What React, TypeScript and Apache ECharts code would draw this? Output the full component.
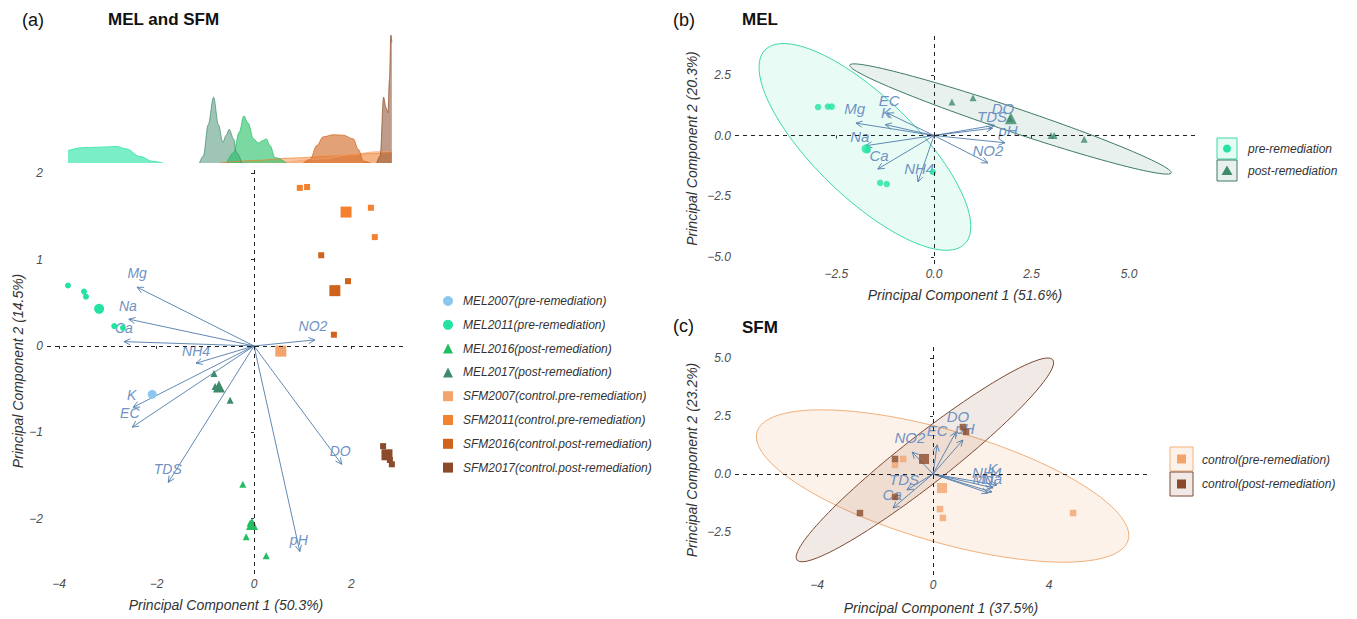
import React, { useEffect, useRef } from "react";
import * as echarts from "echarts";

const FONT = '"Liberation Sans", Arial, Helvetica, sans-serif';

// ---------- Panel (a): MEL and SFM ----------
const groupNames = [
  "MEL2007(pre-remediation)",
  "MEL2011(pre-remediation)",
  "MEL2016(post-remediation)",
  "MEL2017(post-remediation)",
  "SFM2007(control.pre-remediation)",
  "SFM2011(control.pre-remediation)",
  "SFM2016(control.post-remediation)",
  "SFM2017(control.post-remediation)",
];
const groupColors = ["#8CC8EE", "#22E3A0", "#22BE62", "#3E8B6C", "#F3A46C", "#F3812E", "#D0621C", "#8B4A2A"];
const groupSymbols = ["circle", "circle", "triangle", "triangle", "rect", "rect", "rect", "rect"];

const mel2007Pts: number[][] = [];
const mel2007Mean = [[-2.09, -0.56]];
const mel2011Pts = [[-3.82, 0.7], [-3.49, 0.63], [-3.45, 0.57], [-2.87, 0.23], [-2.69, 0.21]];
const mel2011Mean = [[-3.18, 0.43]];
const mel2016Pts = [[-0.23, -1.6], [-0.16, -2.21], [0.25, -2.43], [-0.08, -2.05]];
const mel2016Mean = [[-0.04, -2.06]];
const mel2017Pts = [[-0.82, -0.32], [-0.8, -0.47], [-0.49, -0.63]];
const mel2017Mean = [[-0.72, -0.47]];
const sfm2007Pts: number[][] = [];
const sfm2007Mean = [[0.55, -0.06]];
const sfm2011Pts = [[0.94, 1.83], [1.09, 1.84], [2.4, 1.6], [2.48, 1.26]];
const sfm2011Mean = [[1.89, 1.55]];
const sfm2016Pts = [[1.38, 1.05], [1.93, 0.75], [1.64, 0.13]];
const sfm2016Mean = [[1.66, 0.64]];
const sfm2017Pts = [[2.65, -1.16], [2.79, -1.32], [2.83, -1.37]];
const sfm2017Mean = [[2.73, -1.26]];

const groupPts = [mel2007Pts, mel2011Pts, mel2016Pts, mel2017Pts, sfm2007Pts, sfm2011Pts, sfm2016Pts, sfm2017Pts];
const groupMeans = [mel2007Mean, mel2011Mean, mel2016Mean, mel2017Mean, sfm2007Mean, sfm2011Mean, sfm2016Mean, sfm2017Mean];

const varsA = ["Mg", "Na", "Ca", "NH4", "NO2", "K", "EC", "TDS", "DO", "pH"];
const loadA = [[-2.4, 0.68], [-2.57, 0.31], [-2.67, 0.05], [-1.19, -0.2], [1.25, 0.07], [-2.48, -0.71], [-2.5, -0.94], [-1.76, -1.58], [1.8, -1.37], [0.94, -2.38]];
const labA = [[-2.4, 0.85], [-2.59, 0.46], [-2.67, 0.21], [-1.19, -0.06], [1.21, 0.23], [-2.51, -0.57], [-2.55, -0.78], [-1.77, -1.43], [1.77, -1.22], [0.92, -2.25]];

// densities along PC1 (top margin of panel a)
const densMel2011 = [[-3.82, 0.3], [-3.51, 0.37], [-3.2, 0.38], [-2.82, 0.4], [-2.62, 0.34], [-2.35, 0.16], [-2.08, 0.04], [-1.87, 0.0]];
const densMel2017 = [[-1.12, 0.0], [-1.04, 0.17], [-0.94, 0.92], [-0.83, 1.58], [-0.73, 0.92], [-0.64, 0.5], [-0.57, 0.67], [-0.51, 0.81], [-0.42, 0.58], [-0.36, 0.25], [-0.25, 0.0]];
const densMel2016 = [[-0.56, 0.0], [-0.42, 0.25], [-0.3, 0.75], [-0.21, 1.13], [-0.12, 0.96], [-0.01, 0.58], [0.09, 0.48], [0.18, 0.54], [0.25, 0.58], [0.33, 0.42], [0.43, 0.13], [0.67, 0.0]];
const densSfm2007 = [[0.6, 0.0], [1.4, 0.1], [2.0, 0.2], [2.5, 0.27], [2.83, 0.28]];
const densSfm2011 = [[-0.7, 0.0], [0.0, 0.06], [0.8, 0.12], [1.6, 0.17], [2.3, 0.22], [2.83, 0.25]];
const densSfm2016 = [[1.01, 0.0], [1.15, 0.08], [1.29, 0.42], [1.42, 0.63], [1.63, 0.68], [1.83, 0.67], [2.04, 0.58], [2.14, 0.33], [2.25, 0.04], [2.39, 0.0]];
const densSfm2017 = [[2.52, 0.0], [2.59, 0.17], [2.66, 1.58], [2.71, 1.33], [2.75, 1.21], [2.78, 2.0], [2.81, 3.08], [2.83, 2.9]];

// ---------- Panel (b): MEL ----------
const melPrePts = [[-2.97, 1.17], [-2.72, 1.19], [-2.62, 1.19], [-1.7, -0.6], [-1.38, -1.95], [-1.21, -2.0], [-0.03, -1.5]];
const melPreMean = [[-1.74, -0.55]];
const melPostPts = [[0.46, 1.38], [1.0, 1.55], [3.0, 0.0], [3.08, 0.0], [3.85, -0.15], [1.95, 0.7]];
const melPostMean = [[1.97, 0.71]];
// ellipse: centre x, centre y, half-axis a (x, y), conjugate half-axis b (x, y)
const melPreEllipse = [[-1.77, -0.47, -2.56, 3.99, 0.9, 1.48]];
const melPostEllipse = [[1.96, 0.68, 4.12, -2.22, 0.1, 0.47]];
const varsB = ["Mg", "EC", "K", "Na", "Ca", "NH4", "TDS", "DO", "pH", "NO2"];
const loadB = [[-2.0, 0.51], [-1.2, 0.93], [-1.25, 0.45], [-1.75, -0.42], [-1.44, -1.38], [-0.41, -1.91], [1.5, 0.3], [1.55, 0.42], [1.82, -0.3], [1.38, -1.13]];
const labB = [[-2.03, 1.12], [-1.15, 1.46], [-1.23, 0.93], [-1.9, -0.05], [-1.41, -0.84], [-0.38, -1.35], [1.49, 0.8], [1.77, 1.13], [1.9, 0.19], [1.38, -0.63]];

// ---------- Panel (c): SFM ----------
const sfmPrePts = [[-1.03, 0.65], [-1.31, 0.39], [0.24, -1.52], [0.34, -1.9], [4.83, -1.69]];
const sfmPreMean = [[0.31, -0.61]];
const sfmPostPts = [[-1.31, 0.65], [1.03, 2.03], [1.14, 1.82], [-1.31, -0.99], [-2.52, -1.69]];
const sfmPostMean = [[-0.31, 0.65]];
const sfmPreEllipse = [[0.33, -0.52, 6.4, -2.34, 0.54, 2.32]];
const sfmPostEllipse = [[-0.28, 0.61, 4.41, 4.33, 0.51, -0.82]];
const varsC = ["NO2", "EC", "DO", "pH", "TDS", "Ca", "NH4", "K", "Mg", "Na"];
const loadC = [[-0.72, 0.95], [0.14, 1.26], [0.79, 1.82], [1.03, 1.47], [-0.9, -0.69], [-1.38, -1.47], [2.03, -0.78], [2.2, -0.48], [1.9, -0.82], [2.07, -0.6]];
const labC = [[-0.8, 1.6], [0.14, 1.86], [0.86, 2.47], [1.1, 1.95], [-1.0, -0.22], [-1.41, -0.87], [1.86, 0.06], [2.05, 0.22], [1.72, -0.2], [2.05, -0.2]];

// tick values
const ticksAx = [-4, -2, 0, 2];
const ticksAy = [-2, -1, 0, 1, 2];
const ticksBx = [-2.5, 0, 2.5, 5];
const ticksBy = [-5, -2.5, 0, 2.5];
const ticksCx = [-4, 0, 4];
const ticksCy = [-2.5, 0, 2.5, 5];

const ARROW = "#4F7CAC";
const VARLAB = "#6F93C4";

const fmt0 = (v: number) => String(v).replace("-", "\u2212");
const fmt1 = (v: number) => v.toFixed(1).replace("-", "\u2212");

function makeAxis(gridIndex: number, min: number, max: number, ticks: number[], fmt: (v: number) => string, name: string, nameGap: number) {
  return {
    gridIndex,
    type: "value",
    min,
    max,
    name,
    nameLocation: "middle",
    nameGap,
    nameTextStyle: { fontSize: 14, fontStyle: "italic", color: "#333", fontFamily: FONT },
    axisLine: { show: false },
    splitLine: { show: false },
    axisTick: { show: true, length: 3, lineStyle: { color: "#333" }, customValues: ticks },
    axisLabel: {
      show: true,
      customValues: ticks,
      formatter: fmt,
      fontSize: 12,
      fontStyle: "italic",
      color: "#4D4D4D",
      fontFamily: FONT,
      margin: 4,
    },
  };
}

function arrowRender(names: string[], labels: number[][], fontSize: number) {
  return (params: any, api: any) => {
    const i = params.dataIndex;
    const o = api.coord([0, 0]);
    const t = api.coord([api.value(0), api.value(1)]);
    const l = api.coord(labels[i]);
    const ang = Math.atan2(t[1] - o[1], t[0] - o[0]);
    const h = 7;
    const s = 0.45;
    const h1 = [t[0] - h * Math.cos(ang - s), t[1] - h * Math.sin(ang - s)];
    const h2 = [t[0] - h * Math.cos(ang + s), t[1] - h * Math.sin(ang + s)];
    return {
      type: "group",
      children: [
        { type: "line", shape: { x1: o[0], y1: o[1], x2: t[0], y2: t[1] }, style: { stroke: ARROW, lineWidth: 0.9 } },
        { type: "polyline", shape: { points: [h1, t, h2] }, style: { stroke: ARROW, lineWidth: 0.9, fill: null } },
        {
          type: "text",
          x: l[0],
          y: l[1],
          style: {
            text: names[i],
            fill: VARLAB,
            fontSize,
            fontStyle: "italic",
            fontFamily: FONT,
            align: "center",
            verticalAlign: "middle",
          },
        },
      ],
    };
  };
}

function ellipseRender(fill: string, stroke: string) {
  return (_params: any, api: any) => {
    const cx = api.value(0), cy = api.value(1), ax = api.value(2), ay = api.value(3), bx = api.value(4), by = api.value(5);
    const pts: number[][] = [];
    const n = 120;
    for (let k = 0; k < n; k++) {
      const t = (k / n) * Math.PI * 2;
      pts.push(api.coord([cx + ax * Math.cos(t) + bx * Math.sin(t), cy + ay * Math.cos(t) + by * Math.sin(t)]));
    }
    return { type: "polygon", shape: { points: pts }, style: { fill, stroke, lineWidth: 1 } };
  };
}

function pointsData(pts: number[][], means: number[][], small: number, big: number) {
  return [
    ...pts.map((p) => ({ value: p, symbolSize: small })),
    ...means.map((p) => ({ value: p, symbolSize: big })),
  ];
}

const zeroLines = {
  silent: true,
  symbol: "none",
  label: { show: false },
  lineStyle: { type: [4, 4], color: "#222", width: 1 },
  data: [{ xAxis: 0 }, { yAxis: 0 }],
};

export default function App() {
  const ref = useRef<HTMLDivElement>(null);
  useEffect(() => {
    if (!ref.current) return;
    const chart = echarts.init(ref.current, null, { renderer: "svg" });

    const series: any[] = [];

    // density layers (grid 0)
    const dens = [
      { d: densMel2011, c: groupColors[1], o: 0.6 },
      { d: densSfm2011, c: groupColors[5], o: 0.45 },
      { d: densSfm2007, c: groupColors[4], o: 0.5 },
      { d: densMel2017, c: groupColors[3], o: 0.5 },
      { d: densMel2016, c: groupColors[2], o: 0.6 },
      { d: densSfm2016, c: groupColors[6], o: 0.6 },
      { d: densSfm2017, c: groupColors[7], o: 0.55 },
    ];
    dens.forEach((g, i) => {
      series.push({
        type: "line",
        name: "density" + i,
        xAxisIndex: 0,
        yAxisIndex: 0,
        data: g.d,
        showSymbol: false,
        smooth: 0.35,
        smoothMonotone: "x",
        lineStyle: { color: g.c, width: 0.7 },
        itemStyle: { color: g.c },
        areaStyle: { color: g.c, opacity: g.o, origin: 0 },
        silent: true,
        z: 2,
      });
    });

    // panel a arrows
    series.push({
      type: "custom",
      name: "loadingsA",
      xAxisIndex: 1,
      yAxisIndex: 1,
      data: loadA,
      encode: { x: 0, y: 1 },
      renderItem: arrowRender(varsA, labA, 14),
      silent: true,
      z: 3,
      markLine: zeroLines,
    });

    // panel a points
    groupNames.forEach((nm, i) => {
      const big = groupSymbols[i] === "triangle" ? 12 : groupSymbols[i] === "rect" ? 11 : i === 0 ? 9 : 10;
      const small = groupSymbols[i] === "triangle" ? 7 : 6;
      series.push({
        type: "scatter",
        name: nm,
        xAxisIndex: 1,
        yAxisIndex: 1,
        symbol: groupSymbols[i],
        itemStyle: { color: groupColors[i], opacity: 1 },
        data: pointsData(groupPts[i], groupMeans[i], small, big),
        z: 4,
      });
    });

    // panel b
    series.push({
      type: "custom",
      name: "ellipseMelPre",
      xAxisIndex: 2,
      yAxisIndex: 2,
      data: melPreEllipse,
      encode: { x: 0, y: 1 },
      renderItem: ellipseRender("rgba(34,227,160,0.10)", "#3CD8A8"),
      silent: true,
      z: 1,
    });
    series.push({
      type: "custom",
      name: "ellipseMelPost",
      xAxisIndex: 2,
      yAxisIndex: 2,
      data: melPostEllipse,
      encode: { x: 0, y: 1 },
      renderItem: ellipseRender("rgba(62,139,108,0.12)", "#3E7B62"),
      silent: true,
      z: 1,
    });
    series.push({
      type: "custom",
      name: "loadingsB",
      xAxisIndex: 2,
      yAxisIndex: 2,
      data: loadB,
      encode: { x: 0, y: 1 },
      renderItem: arrowRender(varsB, labB, 15),
      silent: true,
      z: 3,
      markLine: zeroLines,
    });
    series.push({
      type: "scatter",
      name: "pre-remediation",
      xAxisIndex: 2,
      yAxisIndex: 2,
      symbol: "circle",
      itemStyle: { color: "#22E3A0" },
      data: pointsData(melPrePts, melPreMean, 6.5, 9),
      z: 4,
    });
    series.push({
      type: "scatter",
      name: "post-remediation",
      xAxisIndex: 2,
      yAxisIndex: 2,
      symbol: "triangle",
      itemStyle: { color: "#3E8B6C" },
      data: pointsData(melPostPts, melPostMean, 7, 12),
      z: 4,
    });

    // panel c
    series.push({
      type: "custom",
      name: "ellipseSfmPre",
      xAxisIndex: 3,
      yAxisIndex: 3,
      data: sfmPreEllipse,
      encode: { x: 0, y: 1 },
      renderItem: ellipseRender("rgba(243,164,108,0.14)", "#F0B07A"),
      silent: true,
      z: 1,
    });
    series.push({
      type: "custom",
      name: "ellipseSfmPost",
      xAxisIndex: 3,
      yAxisIndex: 3,
      data: sfmPostEllipse,
      encode: { x: 0, y: 1 },
      renderItem: ellipseRender("rgba(139,74,42,0.12)", "#7D4A33"),
      silent: true,
      z: 1,
    });
    series.push({
      type: "custom",
      name: "loadingsC",
      xAxisIndex: 3,
      yAxisIndex: 3,
      data: loadC,
      encode: { x: 0, y: 1 },
      renderItem: arrowRender(varsC, labC, 15),
      silent: true,
      z: 3,
      markLine: zeroLines,
    });
    series.push({
      type: "scatter",
      name: "control(pre-remediation)",
      xAxisIndex: 3,
      yAxisIndex: 3,
      symbol: "rect",
      itemStyle: { color: "#F3A46C" },
      data: pointsData(sfmPrePts, sfmPreMean, 6.5, 10),
      z: 4,
    });
    series.push({
      type: "scatter",
      name: "control(post-remediation)",
      xAxisIndex: 3,
      yAxisIndex: 3,
      symbol: "rect",
      itemStyle: { color: "#8B4A2A" },
      data: pointsData(sfmPostPts, sfmPostMean, 6.5, 10),
      z: 4,
    });

    const titleStyle = (text: string, bold: boolean) => ({
      text,
      fontSize: bold ? 17 : 18,
      fontWeight: bold ? "bold" : "normal",
      fontFamily: FONT,
      fill: "#111",
      verticalAlign: "middle",
    });
    const legText = (text: string) => ({
      text,
      fontSize: 12,
      fontStyle: "italic",
      fontFamily: FONT,
      fill: "#333",
      verticalAlign: "middle",
    });

    const option: any = {
      animation: false,
      backgroundColor: "#ffffff",
      grid: [
        { left: 47, top: 30, width: 358, height: 133 },
        { left: 47, top: 168, width: 358, height: 406 },
        { left: 735, top: 33, width: 460, height: 231 },
        { left: 735, top: 345, width: 412, height: 230 },
      ],
      xAxis: [
        { gridIndex: 0, type: "value", min: -4.25, max: 3.1, show: false },
        makeAxis(1, -4.25, 3.1, ticksAx, fmt0, "Principal Component 1 (50.3%)", 24),
        makeAxis(2, -5.1, 6.69, ticksBx, fmt1, "Principal Component 1 (51.6%)", 24),
        makeAxis(3, -6.83, 7.38, ticksCx, fmt0, "Principal Component 1 (37.5%)", 26),
      ],
      yAxis: [
        { gridIndex: 0, type: "value", min: 0, max: 3.2, show: false },
        makeAxis(1, -2.64, 2.06, ticksAy, fmt0, "Principal Component 2 (14.5%)", 22),
        makeAxis(2, -5.29, 4.22, ticksBy, fmt1, "Principal Component 2 (20.3%)", 36),
        makeAxis(3, -4.37, 5.58, ticksCy, fmt1, "Principal Component 2 (23.2%)", 36),
      ],
      legend: [
        {
          data: groupNames,
          orient: "vertical",
          left: 438,
          top: 290,
          itemWidth: 10,
          itemHeight: 10,
          itemGap: 11.8,
          selectedMode: false,
          textStyle: { fontSize: 12, fontStyle: "italic", color: "#333", fontFamily: FONT, padding: [0, 0, 0, 5] },
        },
      ],
      graphic: [
        { type: "text", x: 22, y: 20, style: titleStyle("(a)", false) },
        { type: "text", x: 108, y: 19, style: titleStyle("MEL and SFM", true) },
        { type: "text", x: 673, y: 20, style: titleStyle("(b)", false) },
        { type: "text", x: 742, y: 19, style: titleStyle("MEL", true) },
        { type: "text", x: 673, y: 326, style: titleStyle("(c)", false) },
        { type: "text", x: 742, y: 327, style: titleStyle("SFM", true) },
        // legend b
        { type: "rect", shape: { x: 1217, y: 138, width: 20, height: 21 }, style: { fill: "rgba(34,227,160,0.12)", stroke: "#3CD8A8", lineWidth: 1 } },
        { type: "circle", shape: { cx: 1227, cy: 148.5, r: 4 }, style: { fill: "#22E3A0" } },
        { type: "rect", shape: { x: 1217, y: 160, width: 20, height: 21 }, style: { fill: "rgba(62,139,108,0.12)", stroke: "#3E7B62", lineWidth: 1 } },
        { type: "polygon", shape: { points: [[1221.5, 175], [1232.5, 175], [1227, 165.5]] }, style: { fill: "#3E8B6C" } },
        { type: "text", x: 1248, y: 148.5, style: legText("pre-remediation") },
        { type: "text", x: 1248, y: 171, style: legText("post-remediation") },
        // legend c
        { type: "rect", shape: { x: 1170, y: 447, width: 23, height: 24 }, style: { fill: "rgba(243,164,108,0.14)", stroke: "#F0B07A", lineWidth: 1 } },
        { type: "rect", shape: { x: 1177, y: 454.5, width: 9, height: 9 }, style: { fill: "#F3A46C" } },
        { type: "rect", shape: { x: 1170, y: 472, width: 23, height: 24 }, style: { fill: "rgba(139,74,42,0.12)", stroke: "#7D4A33", lineWidth: 1 } },
        { type: "rect", shape: { x: 1177, y: 479.5, width: 9, height: 9 }, style: { fill: "#8B4A2A" } },
        { type: "text", x: 1202, y: 460, style: legText("control(pre-remediation)") },
        { type: "text", x: 1202, y: 484, style: legText("control(post-remediation)") },
      ],
      series,
    };

    chart.setOption(option);
    return () => chart.dispose();
  }, []);

  return (
    <div
      ref={ref}
      style={{ position: "fixed", left: 0, top: 0, width: 1357, height: 619, background: "#fff" }}
    />
  );
}
